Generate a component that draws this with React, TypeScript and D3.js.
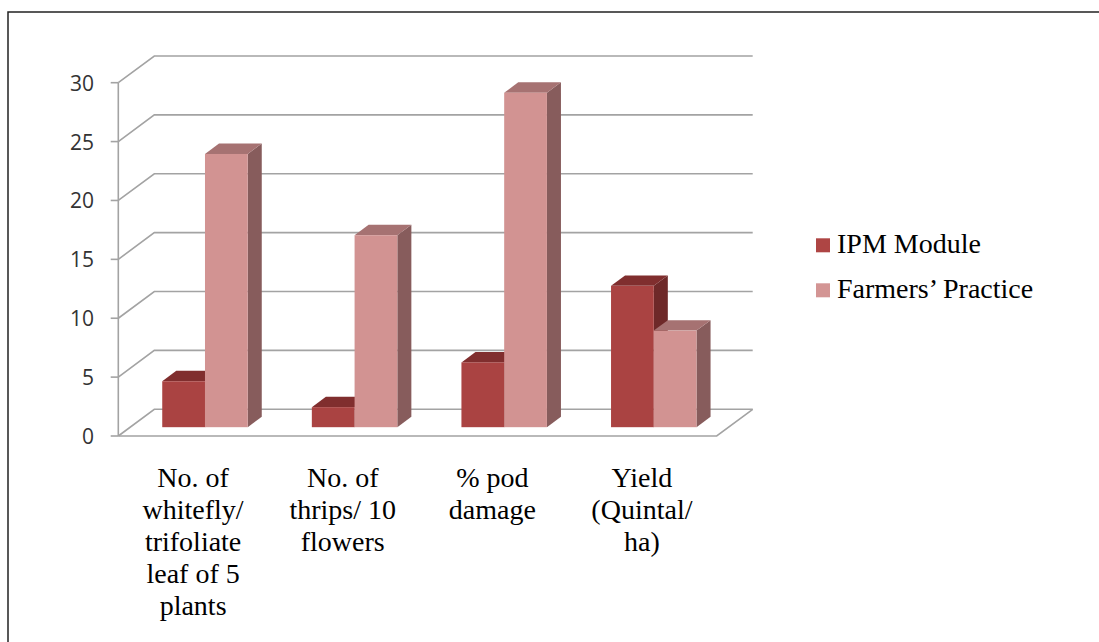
import React from 'react';
import * as d3 from 'd3';

// data
const categoryLabels = [
  ['No. of', 'whitefly/', 'trifoliate', 'leaf of 5', 'plants'],
  ['No. of', 'thrips/ 10', 'flowers'],
  ['% pod', 'damage'],
  ['Yield', '(Quintal/', 'ha)'],
];
const seriesNames = ['IPM Module', 'Farmers\u2019 Practice'];
const ipmValues = [3.9, 1.7, 5.5, 12.0];
const fpValues = [23.2, 16.3, 28.4, 8.2];
const yTicks = [0, 5, 10, 15, 20, 25, 30];

const palette = [
  { front: '#AA4342', top: '#802E2E', side: '#6E2929', legend: '#AE4544' },
  { front: '#D29392', top: '#A67272', side: '#875C5C', legend: '#D39594' },
];

const W = 1099;
const H = 642;
const serif =
  '"Times New Roman", Times, Tinos, "Noto Serif", "Liberation Serif", "DejaVu Serif", FreeSerif, serif';

export default function App() {
  const left = 118.3;
  const right = 716.7;
  const depth = { dx: 36, dy: -26.7 };
  const barFront = 0.33;
  const barDepth = 0.39;

  const y = d3.scaleLinear().domain([0, 30]).range([436, 82.7]);
  const x = d3
    .scaleBand<number>()
    .domain(categoryLabels.map((_, i) => i))
    .range([left, right])
    .padding(0);
  const xs = d3
    .scaleBand<number>()
    .domain([0, 1])
    .range([0, x.bandwidth()])
    .paddingInner(0)
    .paddingOuter(0.75);

  const series = [ipmValues, fpValues];
  const bw = xs.bandwidth();
  const fdx = barFront * depth.dx;
  const fdy = barFront * depth.dy;
  const ddx = barDepth * depth.dx;
  const ddy = barDepth * depth.dy;

  const bars: React.ReactNode[] = [];
  categoryLabels.forEach((_, ci) => {
    series.forEach((vals, si) => {
      const v = vals[ci];
      const x0 = (x(ci) as number) + (xs(si) as number) + fdx;
      const base = y(0) + fdy;
      const top = y(v) + fdy;
      const c = palette[si];
      const pts = (arr: number[][]) => arr.map((p) => p.join(',')).join(' ');
      bars.push(
        <g key={`b${ci}-${si}`}>
          <polygon
            points={pts([
              [x0 + bw, top],
              [x0 + bw + ddx, top + ddy],
              [x0 + bw + ddx, base + ddy],
              [x0 + bw, base],
            ])}
            fill={c.side}
          />
          <polygon
            points={pts([
              [x0, top],
              [x0 + ddx, top + ddy],
              [x0 + bw + ddx, top + ddy],
              [x0 + bw, top],
            ])}
            fill={c.top}
          />
          <rect x={x0} y={top} width={bw} height={base - top} fill={c.front} />
        </g>
      );
    });
  });

  const grid = '#A3A3A3';

  return (
    <svg
      width={W}
      height={H}
      style={{ position: 'absolute', left: 0, top: 0, background: '#fff' }}
    >
      <rect x={8} y={12} width={W} height={H} fill="#fff" stroke="#222" strokeWidth={1.5} />

      {/* side wall diagonals + back wall gridlines */}
      {yTicks.map((t) => (
        <polyline
          key={`g${t}`}
          points={`${left},${y(t)} ${left + depth.dx},${y(t) + depth.dy} ${right + depth.dx},${y(t) + depth.dy}`}
          fill="none"
          stroke={grid}
          strokeWidth={1.6}
        />
      ))}
      {/* floor front edge */}
      <polyline
        points={`${left},${y(0)} ${right},${y(0)} ${right + depth.dx},${y(0) + depth.dy}`}
        fill="none"
        stroke={grid}
        strokeWidth={1.6}
      />

      {/* value axis */}
      <line x1={left} x2={left} y1={y(0)} y2={y(30)} stroke={grid} strokeWidth={1.6} />
      {yTicks.map((t) => (
        <g key={`t${t}`}>
          <line x1={left - 7.6} x2={left} y1={y(t)} y2={y(t)} stroke={grid} strokeWidth={1.6} />
          <text
            x={94}
            y={y(t)}
            textAnchor="end"
            dominantBaseline="central"
            style={{ fontFamily: 'Open Sans, sans-serif', fontSize: 21 }}
            fill="#333"
          >
            {t}
          </text>
        </g>
      ))}

      {bars}

      {/* category labels */}
      {categoryLabels.map((lines, ci) => (
        <text
          key={`c${ci}`}
          x={(x(ci) as number) + x.bandwidth() / 2}
          y={487}
          textAnchor="middle"
          style={{ fontFamily: serif, fontSize: 28 }}
          fill="#000"
        >
          {lines.map((l, li) => (
            <tspan key={li} x={(x(ci) as number) + x.bandwidth() / 2} dy={li === 0 ? 0 : 32}>
              {l}
            </tspan>
          ))}
        </text>
      ))}

      {/* legend */}
      {seriesNames.map((name, si) => (
        <g key={`l${si}`} transform={`translate(816,${238.3 + si * 45})`}>
          <rect x={0} y={0} width={14} height={14} fill={palette[si].legend} />
          <text x={21} y={15} style={{ fontFamily: serif, fontSize: 28 }} fill="#000">
            {name}
          </text>
        </g>
      ))}
    </svg>
  );
}
